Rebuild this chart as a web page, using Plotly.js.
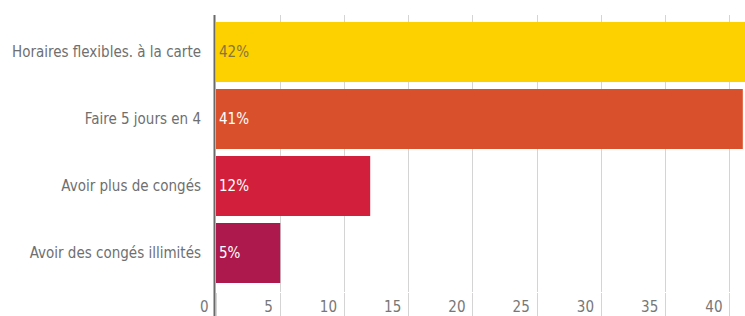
<!DOCTYPE html>
<html>
<head>
<meta charset="utf-8">
<script src="https://cdn.plot.ly/plotly-3.0.1.min.js"></script>
<style>
html,body{margin:0;padding:0;background:#fff;overflow:hidden;}
#chart{width:745px;height:316px;}
</style>
</head>
<body>
<div id="chart"></div>
<script>
// Data
const categories = ['Horaires flexibles. à la carte', 'Faire 5 jours en 4', 'Avoir plus de congés', 'Avoir des congés illimités'];
const values = [42, 41, 12, 5];
const valueLabels = ['42%', '41%', '12%', '5%'];
const xTickValues = [0, 5, 10, 15, 20, 25, 30, 35, 40];

// Styles
const barColors = ['#FDD000', '#D9512C', '#D21F3C', '#AD194D'];
const textColors = ['#86763a', '#ffffff', '#ffffff', '#ffffff'];
const FONT = '"DejaVu Sans Condensed", "Roboto", sans-serif';

const plotTop = 15, plotBottom = 292, plotLeft = 216, W = 745, H = 316;
const plotH = plotBottom - plotTop;

const trace = {
  type: 'bar',
  orientation: 'h',
  y: categories,
  x: values,
  text: valueLabels,
  textposition: 'inside',
  insidetextanchor: 'start',
  textangle: 0,
  textfont: {family: FONT, size: 15, color: textColors},
  marker: {color: barColors, line: {width: 0}},
  hoverinfo: 'none',
  cliponaxis: true
};

const layout = {
  width: W, height: H,
  margin: {l: plotLeft, r: 0, t: plotTop, b: H - plotBottom, pad: 0},
  paper_bgcolor: '#fff', plot_bgcolor: '#fff',
  showlegend: false,
  bargap: 0.104,
  font: {family: FONT, size: 15, color: '#6f6f6f'},
  xaxis: {
    range: [0, 41.17],
    tickvals: xTickValues,
    ticktext: xTickValues.map(String),
    showgrid: true, gridcolor: '#d4d4d4', gridwidth: 1,
    zeroline: false, showline: false,
    ticks: 'outside', ticklen: H - plotBottom, tickcolor: '#d4d4d4', tickwidth: 1,
    ticklabelposition: 'outside left',
    ticklabelstandoff: 1,
    ticklabelshift: -7,
    tickfont: {family: FONT, size: 15, color: '#777'},
    fixedrange: true
  },
  yaxis: {
    type: 'category',
    categoryorder: 'array', categoryarray: categories,
    range: [3 + (plotBottom - 253) / 67, -(52 - plotTop) / 67],
    showgrid: false, zeroline: false, showline: false,
    ticks: '',
    ticklabelstandoff: 14,
    tickfont: {family: FONT, size: 15, color: '#6f6f6f'},
    fixedrange: true
  },
  shapes: [{
    type: 'line', xref: 'paper', yref: 'paper',
    x0: -1.5 / (W - plotLeft), x1: -1.5 / (W - plotLeft),
    y0: -(H - plotBottom) / plotH, y1: 1,
    line: {color: '#6a6a6a', width: 2}
  }]
};

Plotly.newPlot('chart', [trace], layout, {staticPlot: true, displayModeBar: false});
</script>
</body>
</html>
